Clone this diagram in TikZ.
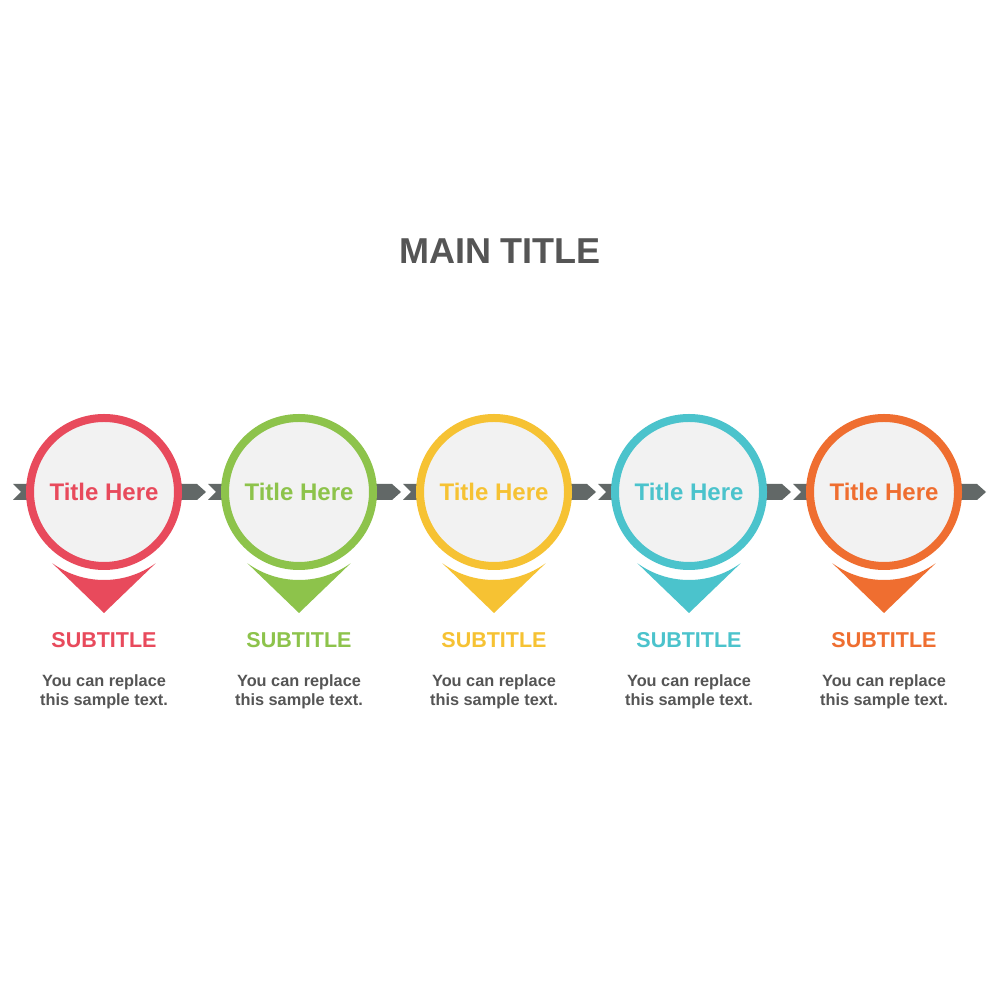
\documentclass[tikz,border=0pt]{standalone}
\usepackage{fontspec}
\setmainfont{Liberation Sans}
\usetikzlibrary{calc}
\definecolor{stepred}{HTML}{E84A5C}
\definecolor{stepgreen}{HTML}{8DC34B}
\definecolor{stepyellow}{HTML}{F6C233}
\definecolor{stepteal}{HTML}{4BC3CC}
\definecolor{steporange}{HTML}{EF6E30}
\definecolor{bandgray}{HTML}{626867}
\definecolor{textgray}{HTML}{555555}
\definecolor{discfill}{HTML}{F2F2F2}
\tikzset{
  disc/.style={circle,minimum size=148pt,line width=8pt,fill=discfill,
    font=\bfseries\fontsize{24}{28}\selectfont},
  subtitle/.style={font=\bfseries\fontsize{21.5}{24}\selectfont},
  body/.style={font=\bfseries\fontsize{16.3}{19}\selectfont,text=textgray,align=center}
}

\begin{document}
\begin{tikzpicture}[x=1pt,y=1pt]
  \useasboundingbox[fill=white] (0,0) rectangle (1000,1000);
  \node[font=\bfseries\fontsize{36}{40}\selectfont,text=textgray] (main) at (500,749) {MAIN TITLE};
  \foreach \col [count=\i] in {stepred,stepgreen,stepyellow,stepteal,steporange} {
    \pgfmathsetmacro{\cx}{104+195*(\i-1)}
    % arrow band piece behind each disc
    \fill[bandgray] (\cx-91,516) -- ++(8,-8) -- ++(-8,-8) -- ++(184,0) -- ++(9,8) -- ++(-9,8) -- cycle;
    \node[disc,draw=\col,text=\col] (disc\i) at (\cx,508) {Title Here};
    % pointer under the disc
    \fill[\col] ($(disc\i.center)+(234:88pt)$) arc[start angle=234,end angle=306,radius=88pt]
      -- ($(disc\i.center)+(0,-121)$) -- cycle;
    \node[subtitle,text=\col] (sub\i) at (\cx,360) {SUBTITLE};
    \node[body] (txt\i) at (\cx,308) {You can replace\\this sample text.};
  }
\end{tikzpicture}
\end{document}
